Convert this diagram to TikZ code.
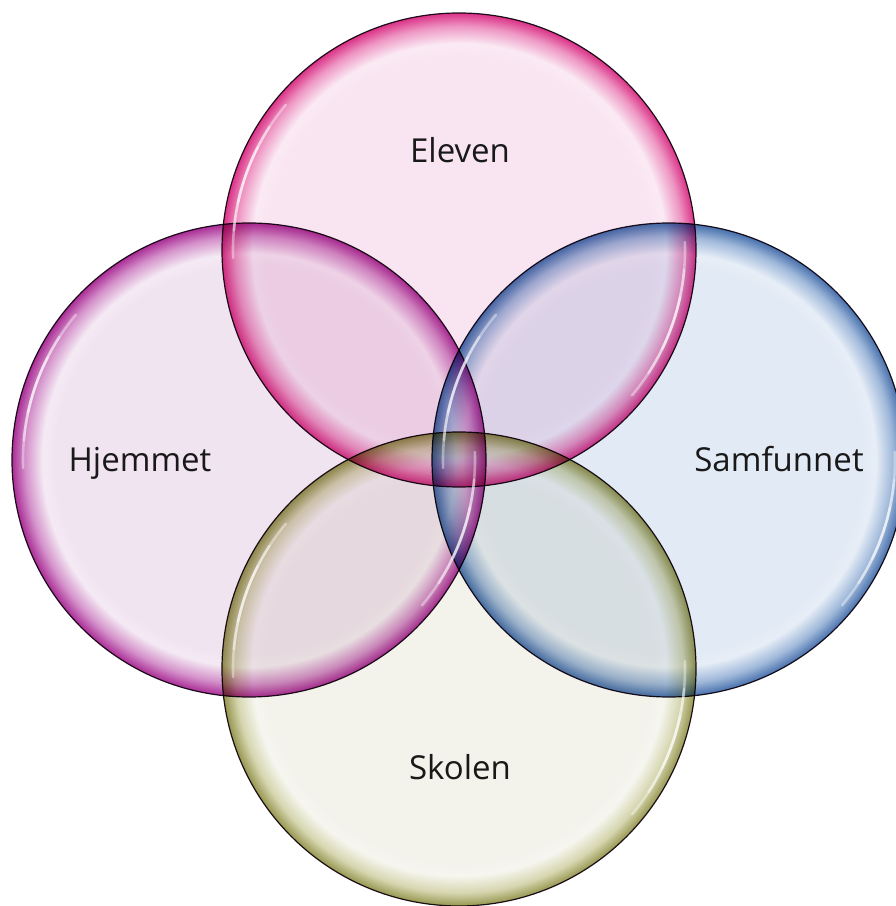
\documentclass[tikz,border=0pt]{standalone}
\usepackage{fontspec}
\setmainfont{Open Sans}
\definecolor{elFill}{RGB}{249,229,241}
\definecolor{elLite}{RGB}{250,234,244}
\definecolor{elMid}{RGB}{238,150,195}
\definecolor{elEdge}{RGB}{218,50,135}
\definecolor{hjFill}{RGB}{241,228,241}
\definecolor{hjLite}{RGB}{244,234,244}
\definecolor{hjMid}{RGB}{212,145,202}
\definecolor{hjEdge}{RGB}{170,45,150}
\definecolor{saFill}{RGB}{226,234,245}
\definecolor{saLite}{RGB}{231,238,247}
\definecolor{saMid}{RGB}{160,185,218}
\definecolor{saEdge}{RGB}{72,112,172}
\definecolor{skFill}{RGB}{243,242,235}
\definecolor{skLite}{RGB}{246,246,240}
\definecolor{skMid}{RGB}{214,214,176}
\definecolor{skEdge}{RGB}{150,150,80}
\definecolor{outline}{RGB}{35,20,35}
\definecolor{txt}{RGB}{25,25,25}
\pgfdeclareradialshading{elsh}{\pgfpointorigin}{color(0bp)=(elFill); color(20.5bp)=(elFill); color(21.8bp)=(elLite); color(23.6bp)=(elMid); color(25bp)=(elEdge); color(50bp)=(elEdge)}
\pgfdeclareradialshading{hjsh}{\pgfpointorigin}{color(0bp)=(hjFill); color(20.5bp)=(hjFill); color(21.8bp)=(hjLite); color(23.6bp)=(hjMid); color(25bp)=(hjEdge); color(50bp)=(hjEdge)}
\pgfdeclareradialshading{sash}{\pgfpointorigin}{color(0bp)=(saFill); color(20.5bp)=(saFill); color(21.8bp)=(saLite); color(23.6bp)=(saMid); color(25bp)=(saEdge); color(50bp)=(saEdge)}
\pgfdeclareradialshading{sksh}{\pgfpointorigin}{color(0bp)=(skFill); color(20.5bp)=(skFill); color(21.8bp)=(skLite); color(23.6bp)=(skMid); color(25bp)=(skEdge); color(50bp)=(skEdge)}
\tikzset{
  bubble/.style={circle, inner sep=0pt, minimum size=474pt, shade, shading=#1, draw=outline, line width=1.2pt},
  label/.style={anchor=base, text=txt, font=\fontsize{33}{39}\selectfont, inner sep=0pt},
  hl/.style={draw=white, line width=2.6pt, opacity=0.4, line cap=round}
}
\newcommand{\highlights}[1]{%
  \foreach \a/\b in {140/182,147/175,153/168}{%
    \draw[hl] ([shift={(\a:226pt)}]#1.center) arc[start angle=\a, end angle=\b, radius=226pt];
  }%
  \foreach \a/\b in {-40/2,-33/-5,-26/-12}{%
    \draw[hl] ([shift={(\a:226pt)}]#1.center) arc[start angle=\a, end angle=\b, radius=226pt];
  }%
}
\begin{document}
\begin{tikzpicture}[x=1pt,y=1pt]
\useasboundingbox (0,0) rectangle (896,906);
\clip (0,0) rectangle (896,906);
\begin{scope}[blend group=multiply]
  \node[bubble=elsh] (eleven) at (459,656) {};
  \node[bubble=hjsh] (hjem) at (249,446) {};
  \node[bubble=sash] (samf) at (669,446) {};
  \node[bubble=sksh] (skole) at (459,237) {};
\end{scope}
\highlights{eleven}
\highlights{hjem}
\highlights{samf}
\highlights{skole}
\node[label] (t1) at (460,743) {Eleven};
\node[label] (t2) at (140,434) {Hjemmet};
\node[label] (t3) at (779,434) {Samfunnet};
\node[label] (t4) at (460,126) {Skolen};
\end{tikzpicture}
\end{document}
